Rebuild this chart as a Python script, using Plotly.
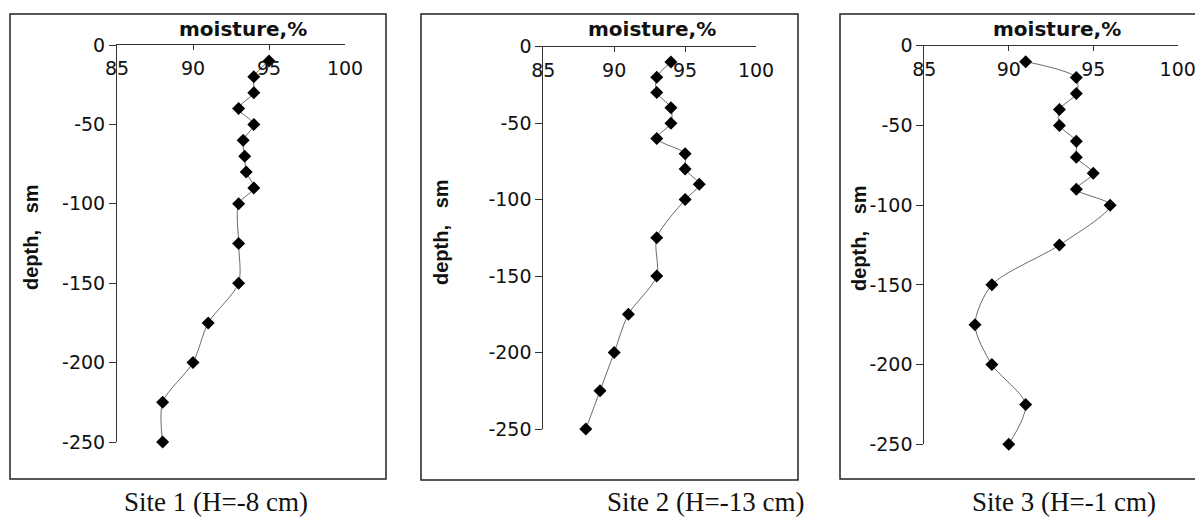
import plotly.graph_objects as go

# ---- data ----
depth = [-10, -20, -30, -40, -50, -60, -70, -80, -90, -100, -125, -150, -175, -200, -225, -250]
site1 = [95, 94, 94, 93, 94, 93.3, 93.4, 93.5, 94, 93, 93, 93, 91, 90, 88, 88]
site2 = [94, 93, 93, 94, 94, 93, 95, 95, 96, 95, 93, 93, 91, 90, 89, 88]
site3 = [91, 94, 94, 93, 93, 94, 94, 95, 94, 96, 93, 89, 88, 89, 91, 90]
captions = ["Site 1 (H=-8 cm)", "Site 2 (H=-13 cm)", "Site 3 (H=-1 cm)"]
x_ticks = [85, 90, 95, 100]
y_ticks = [0, -50, -100, -150, -200, -250]
x_title = "moisture,%"
y_title = "depth,&nbsp;&nbsp; sm"

W, H = 1203, 518
OFF = 8  # page body margin offset

# panel geometry in (screen) pixels
panels = [
    dict(ax0=117, ax1=345, ay0=45, ay1=442, bx0=10, bx1=386, by0=14, by1=479,
         cap_x=216, tit_x=243, yt_x=31, yt_y=237),
    dict(ax0=543.3, ax1=756, ay0=46.7, ay1=429, bx0=421, bx1=798, by0=14, by1=480,
         cap_x=705, tit_x=652, yt_x=441, yt_y=232),
    dict(ax0=924.3, ax1=1177.7, ay0=45.7, ay1=444.3, bx0=840, bx1=1215, by0=14, by1=479,
         cap_x=1064, tit_x=1057, yt_x=859, yt_y=238),
]
series = [site1, site2, site3]

def px(x):
    return (x - OFF) / W

def py(y):
    return 1 - (y - OFF) / H

fig = go.Figure()
shapes = []
annotations = []
tick_font = dict(family="DejaVu Sans, Verdana, sans-serif", size=19, color="#111")

for i, (p, vals) in enumerate(zip(panels, series)):
    n = "" if i == 0 else str(i + 1)
    fig.add_trace(go.Scatter(
        x=vals, y=depth, mode="lines+markers",
        line=dict(shape="spline", smoothing=0.8, color="#444", width=0.8),
        marker=dict(symbol="diamond", size=10, color="black"),
        cliponaxis=False, showlegend=False,
        xaxis="x" + n, yaxis="y" + n,
    ))
    fig.layout["xaxis" + n] = dict(
        domain=[px(p["ax0"]), px(p["ax1"])], range=[85, 100], side="top",
        anchor="y" + n, tickvals=x_ticks, ticktext=[str(v) for v in x_ticks],
        ticks="inside", ticklen=5,
        ticklabelposition="inside", ticklabeloverflow="allow", ticklabelstandoff=13,
        showline=True, linecolor="#333", linewidth=1,
        tickcolor="#333", showgrid=False, zeroline=False, tickfont=tick_font,
        fixedrange=True, automargin=False,
    )
    fig.layout["yaxis" + n] = dict(
        domain=[py(p["ay1"]), py(p["ay0"])], range=[-250, 0],
        anchor="x" + n, tickvals=y_ticks, ticktext=[str(v) for v in y_ticks],
        ticks="outside", ticklen=7,
        showline=True, linecolor="#333", linewidth=1, tickcolor="#333",
        showgrid=False, zeroline=False, tickfont=tick_font, fixedrange=True,
        automargin=False,
    )
    shapes.append(dict(type="rect", xref="paper", yref="paper",
                       x0=px(p["bx0"]), x1=px(p["bx1"]), y0=py(p["by1"]), y1=py(p["by0"]),
                       line=dict(color="#222", width=1.5)))
    annotations.append(dict(text="<b>" + x_title + "</b>", xref="paper", yref="paper",
                            x=px(p["tit_x"]), y=py(29), xanchor="center", yanchor="middle",
                            showarrow=False,
                            font=dict(family="DejaVu Sans, Verdana, sans-serif", size=20, color="#111")))
    annotations.append(dict(text="<b>" + y_title + "</b>", xref="paper", yref="paper",
                            x=px(p["yt_x"]), y=py(p["yt_y"]), xanchor="center", yanchor="middle",
                            textangle=-90, showarrow=False,
                            font=dict(family="Liberation Sans Narrow, Liberation Sans, Arial, sans-serif",
                                      size=20, color="#111")))
    annotations.append(dict(text=captions[i], xref="paper", yref="paper",
                            x=px(p["cap_x"]), y=py(502), xanchor="center", yanchor="middle",
                            showarrow=False, borderpad=0,
                            font=dict(family="Liberation Serif, Times New Roman, serif", size=27, color="#111")))

fig.update_layout(
    width=W, height=H, autosize=False,
    margin=dict(l=0, r=0, t=0, b=0),
    paper_bgcolor="white", plot_bgcolor="white",
    shapes=shapes, annotations=annotations,
)

fig.write_html("out.html")
